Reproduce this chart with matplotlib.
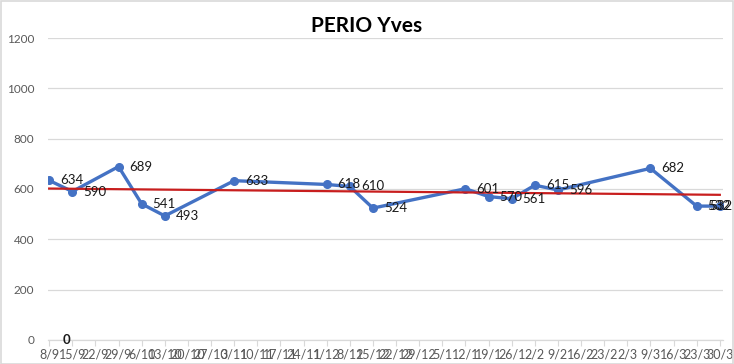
import numpy as np
import matplotlib.pyplot as plt
from matplotlib.patches import Rectangle

plt.rcParams['font.family'] = ['Lato', 'DejaVu Sans']

# semaines (axe des dates)
semaines = ["8/9", "15/9", "22/9", "29/9", "6/10", "13/10", "20/10", "27/10",
            "3/11", "10/11", "17/11", "24/11", "1/12", "8/12", "15/12", "22/12",
            "29/12", "5/1", "12/1", "19/1", "26/1", "2/2", "9/2", "16/2",
            "23/2", "2/3", "9/3", "16/3", "23/3", "30/3"]

# valeurs mesurées (None = pas de mesure cette semaine)
valeurs = [634, 590, None, 689, 541, 493, None, None,
           633, None, None, None, 618, 610, 524, None,
           None, None, 601, 570, 561, 615, 596, None,
           None, None, 682, None, 532, 532]

bleu = "#4472C4"
rouge = "#C81E1E"
gris_txt = "#595959"
gris_grille = "#D9D9D9"

x = np.array([i for i, v in enumerate(valeurs) if v is not None])
y = np.array([v for v in valeurs if v is not None])

fig = plt.figure(figsize=(7.34, 3.64), dpi=100)
ax = fig.add_axes([0.0654, 0.066, 0.92, 0.8296])

ax.plot(x, y, color=bleu, lw=2.4, marker="o", ms=5.5, zorder=3)

# courbe de tendance linéaire
coef = np.polyfit(x, y, 1)
xt = np.array([0, len(semaines) - 1])
ax.plot(xt, np.polyval(coef, xt), color=rouge, lw=1.6, zorder=4)

# étiquettes de données
for i, (xi, yi) in enumerate(zip(x, y)):
    dx = 11
    if i == len(x) - 1:
        dx = -11  # Excel recale la dernière étiquette dans le cadre
    ax.annotate(str(yi), (xi, yi), xytext=(dx, 0), textcoords="offset pixels",
                ha="left", va="center", fontsize=9.5, color="#1a1a1a", zorder=5)
ax.annotate("0", (0, 0), xytext=(13, 0), textcoords="offset pixels",
            ha="left", va="center", fontsize=9.5, fontweight="bold",
            color="#1a1a1a", zorder=5, annotation_clip=False)

ax.set_ylim(0, 1200)
ax.set_yticks(range(0, 1201, 200))
ax.set_xlim(-0.05, len(semaines) - 1 + 0.15)
ax.set_xticks(range(len(semaines)))
ax.set_xticklabels(semaines)

ax.grid(axis="y", color=gris_grille, lw=0.9)
ax.set_axisbelow(True)
for s in ["top", "right", "left"]:
    ax.spines[s].set_visible(False)
ax.spines["bottom"].set_color(gris_grille)
ax.spines["bottom"].set_linewidth(0.9)
ax.tick_params(axis="y", length=0, labelsize=8.5, labelcolor=gris_txt, pad=10)
ax.tick_params(axis="x", length=4, color=gris_grille, labelsize=9,
               labelcolor=gris_txt, pad=2)

fig.suptitle("PERIO Yves", fontsize=15, fontweight="bold", x=0.5, y=0.928,
             va="center")

fig.patches.append(Rectangle((0.001, 0.001), 0.997, 0.997, transform=fig.transFigure,
                             fill=False, edgecolor=gris_grille, lw=1.2))

fig.savefig("out.png", dpi=100)
